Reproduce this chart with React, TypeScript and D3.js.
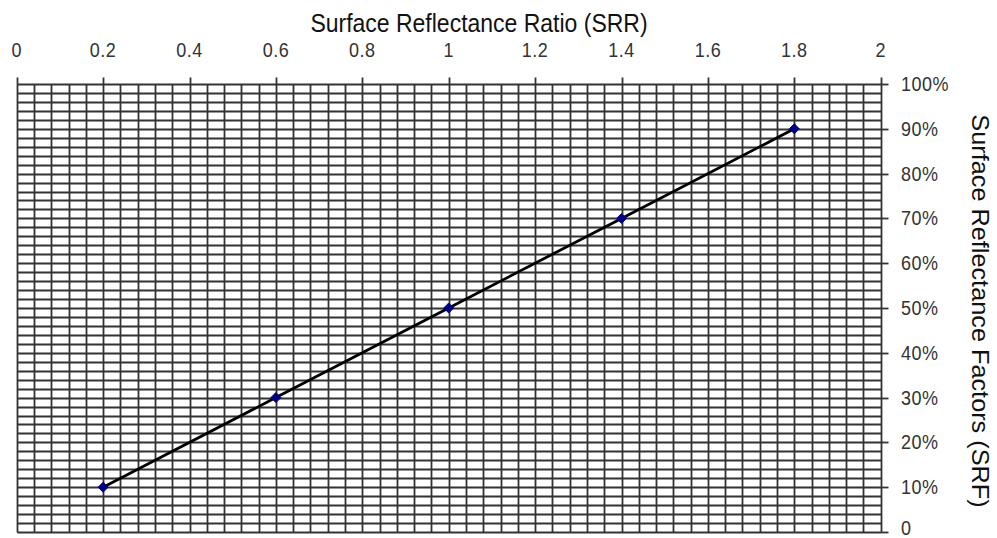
import React from "react";
import * as d3 from "d3";

const srr = [0.2, 0.6, 1.0, 1.4, 1.8];
const srf = [0.1, 0.3, 0.5, 0.7, 0.9];
const xTickValues = [0, 0.2, 0.4, 0.6, 0.8, 1, 1.2, 1.4, 1.6, 1.8, 2];
const yTickValues = [0, 0.1, 0.2, 0.3, 0.4, 0.5, 0.6, 0.7, 0.8, 0.9, 1];
const xTitle = "Surface Reflectance Ratio (SRR)";
const yTitle = "Surface Reflectance Factors (SRF)";

const W = 997;
const H = 538;
const left = 16.7;
const right = 880.7;
const top = 84;
const bottom = 532;
const SY = 1.1;

export default function App() {
  const x = d3.scaleLinear().domain([0, 2]).range([left, right]);
  const y = d3.scaleLinear().domain([0, 1]).range([bottom, top]);
  const px = (v: number) => Math.round(x(v)) + 0.5;
  const py = (v: number) => Math.round(y(v)) + 0.5;
  const xGrid = d3.range(0, 51).map((i) => i * 0.04);
  const yGrid = d3.range(0, 51).map((i) => i * 0.02);
  const line = d3
    .line<number>()
    .x((_, i) => x(srr[i]))
    .y((d) => y(d));
  const font = "Arial, 'Liberation Sans', sans-serif";
  const pTop = py(1);
  const pBottom = py(0);
  const pLeft = px(0);
  const pRight = px(2);
  return (
    <svg
      width={W}
      height={H}
      style={{ position: "absolute", left: 0, top: 0, background: "#fff" }}
    >
      <rect x={0} y={0} width={W} height={H} fill="#fff" />
      <g stroke="#333" strokeWidth={1.8}>
        {xGrid.map((v, i) => (
          <line key={"vx" + i} x1={px(v)} x2={px(v)} y1={pTop} y2={pBottom} />
        ))}
        {yGrid.map((v, i) => (
          <line key={"hy" + i} x1={pLeft} x2={pRight} y1={py(v)} y2={py(v)} />
        ))}
        {xTickValues.map((v, i) => (
          <line key={"xt" + i} x1={px(v)} x2={px(v)} y1={pTop} y2={pTop - 7} />
        ))}
        {yTickValues.map((v, i) => (
          <line key={"yt" + i} x1={pRight} x2={pRight + 7} y1={py(v)} y2={py(v)} />
        ))}
      </g>
      <path
        d={line(srf) || ""}
        fill="none"
        stroke="#000"
        strokeWidth={2.8}
      />
      {srf.map((v, i) => {
        const cx = x(srr[i]);
        const cy = y(v);
        const r = 5;
        return (
          <path
            key={"m" + i}
            d={`M${cx},${cy - r}L${cx + r},${cy}L${cx},${cy + r}L${cx - r},${cy}Z`}
            fill="#000080"
            stroke="#000080"
            strokeWidth={1}
          />
        );
      })}
      <g fontFamily={font} fontSize={18} fill="#333" letterSpacing={0.5}>
        {xTickValues.map((v, i) => (
          <text
            key={"xl" + i}
            transform={`translate(${x(v)},56.5) scale(1,${SY})`}
            textAnchor="middle"
          >
            {d3.format("~g")(v)}
          </text>
        ))}
        {yTickValues.map((v, i) => (
          <text
            key={"yl" + i}
            transform={`translate(901,${y(v) - (v === 0 ? 4 : 0)}) scale(1,${SY})`}
            dy="0.35em"
            textAnchor="start"
          >
            {v === 0 ? "0" : d3.format(".0%")(v)}
          </text>
        ))}
      </g>
      <text
        transform={`translate(479,31.5) scale(1,${SY})`}
        textAnchor="middle"
        fontFamily={font}
        fontSize={23}
        fill="#111"
      >
        {xTitle}
      </text>
      <text
        transform={`translate(972, 311) scale(1,${SY}) rotate(90)`}
        textAnchor="middle"
        fontFamily={font}
        fontSize={23}
        fill="#111"
      >
        {yTitle}
      </text>
    </svg>
  );
}
